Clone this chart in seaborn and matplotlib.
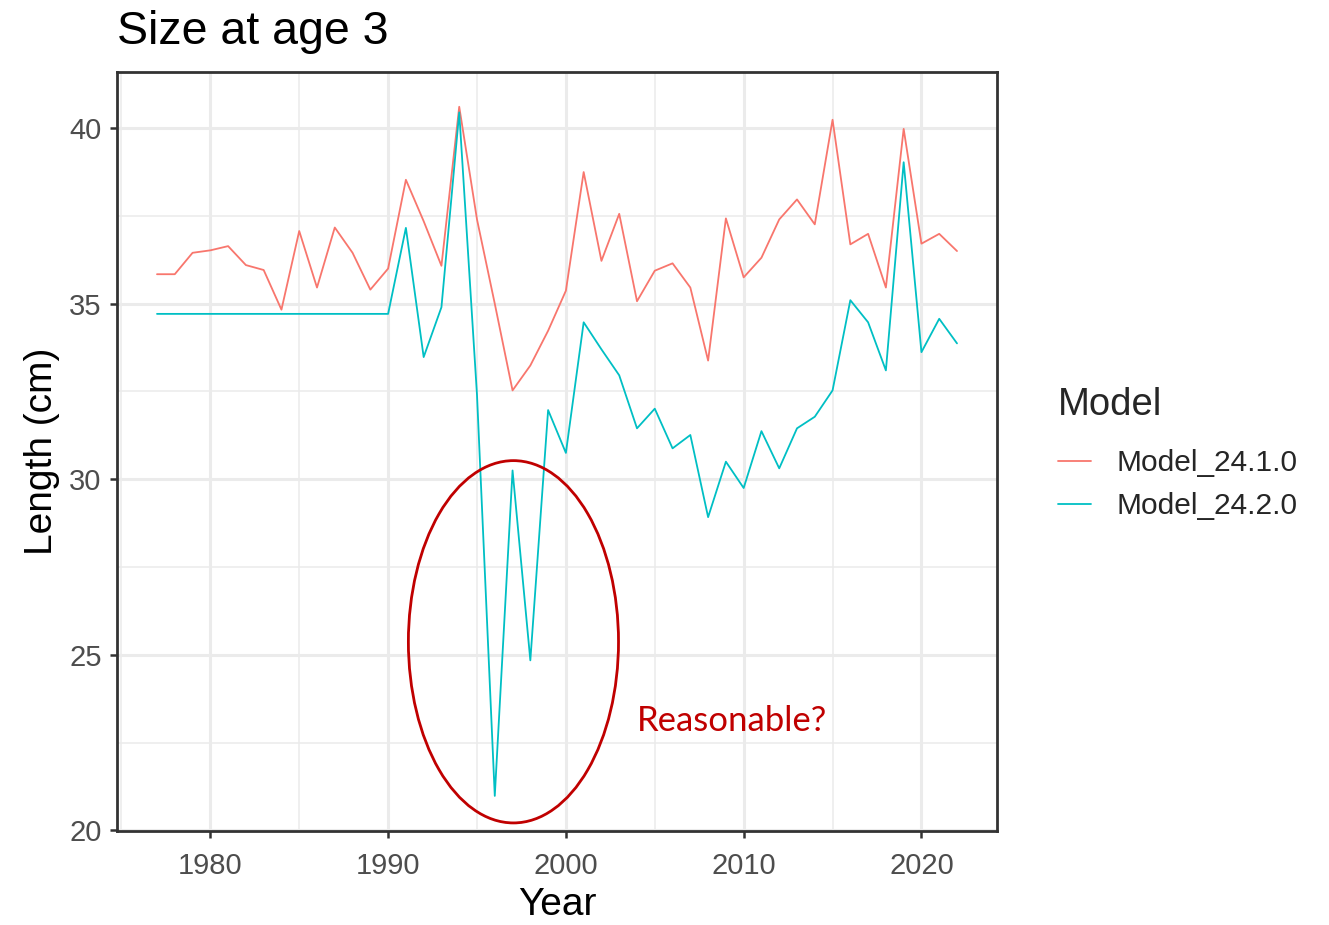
import numpy as np
import pandas as pd
import matplotlib
matplotlib.use("Agg")
import matplotlib.pyplot as plt
from matplotlib.patches import Ellipse
from matplotlib.lines import Line2D
import seaborn as sns

years = list(range(1977, 2023))
model_names = ["Model_24.1.0", "Model_24.2.0"]
model_24_1_0 = [35.84, 35.84, 36.45, 36.52, 36.64, 36.10, 35.96, 34.83, 37.07, 35.46,
                37.17, 36.45, 35.40, 36.00, 38.53, 37.35, 36.08, 40.61, 37.40, 35.00,
                32.53, 33.24, 34.23, 35.37, 38.75, 36.22, 37.56, 35.07, 35.94, 36.15,
                35.46, 33.38, 37.43, 35.75, 36.31, 37.40, 37.97, 37.26, 40.24, 36.69,
                36.99, 35.46, 39.98, 36.71, 36.99, 36.50]
model_24_2_0 = [34.71, 34.71, 34.71, 34.71, 34.71, 34.71, 34.71, 34.71, 34.71, 34.71,
                34.71, 34.71, 34.71, 34.71, 37.16, 33.48, 34.90, 40.45, 32.40, 20.98,
                30.25, 24.84, 31.97, 30.75, 34.47, 33.70, 32.96, 31.45, 32.01, 30.88,
                31.26, 28.92, 30.50, 29.75, 31.37, 30.31, 31.45, 31.78, 32.53, 35.10,
                34.47, 33.10, 39.03, 33.62, 34.57, 33.87]
colors = ["#F8766D", "#00BFC4"]
x_ticks = [1980, 1990, 2000, 2010, 2020]
y_ticks = [20, 25, 30, 35, 40]

df = pd.DataFrame({
    "Year": years * 2,
    "Length": model_24_1_0 + model_24_2_0,
    "Model": [model_names[0]] * len(years) + [model_names[1]] * len(years),
})

sns.set_theme(style="white")
plt.rcParams["font.family"] = ["Liberation Sans", "DejaVu Sans"]

W, H = 1329, 925
fig = plt.figure(figsize=(W / 100, H / 100), dpi=100)
ax = fig.add_axes([117 / W, 1 - 831 / H, (997 - 117) / W, (831 - 72) / H])

sns.lineplot(data=df, x="Year", y="Length", hue="Model", palette=colors,
             ax=ax, linewidth=1.3, legend=False, estimator=None)

ax.set_xlim(1974.75, 2024.25)
ax.set_ylim(19.98, 41.6)
ax.set_xticks(x_ticks)
ax.set_yticks(y_ticks)
ax.set_xticks([1975, 1985, 1995, 2005, 2015], minor=True)
ax.set_yticks([22.5, 27.5, 32.5, 37.5], minor=True)
ax.grid(which="major", color="#EBEBEB", linewidth=2.2)
ax.grid(which="minor", color="#EBEBEB", linewidth=1.1)
ax.set_axisbelow(True)
for s in ax.spines.values():
    s.set_color("#333333")
    s.set_linewidth(2.0)
ax.tick_params(axis="both", which="major", length=5, width=1.8, color="#333333",
               labelsize=21, labelcolor="#4D4D4D", bottom=True, left=True)
ax.tick_params(axis="x", which="major", pad=10)
ax.tick_params(axis="y", which="major", pad=6)
ax.tick_params(axis="both", which="minor", length=0)

ax.set_xlabel("Year", fontsize=28, color="black", labelpad=5)
ax.set_ylabel("Length (cm)", fontsize=28, color="black", labelpad=7)

fig.text(117 / W, 1 - 44 / H, "Size at age 3", fontsize=33.5, color="black",
         ha="left", va="baseline")

# annotation
ell = Ellipse((1997.05, 25.37), width=11.82, height=10.32, fill=False,
              edgecolor="#C00000", linewidth=2.0, zorder=5)
ax.add_patch(ell)
ax.text(2004.0, 23.1, "Reasonable?", fontsize=25, color="#C00000",
        family=["Lato", "DejaVu Sans"], ha="left", va="center")

handles = [Line2D([0], [0], color=c, lw=1.3) for c in colors]
leg = fig.legend(handles, model_names, title="Model", loc="upper left",
                 bbox_to_anchor=(1058 / W, 1 - 387 / H), frameon=False,
                 fontsize=21.5, title_fontsize=27.5, handlelength=1.1,
                 handletextpad=0.85, labelspacing=0.5, borderpad=0.0,
                 borderaxespad=0.0)
leg._legend_box.align = "left"
leg._legend_box.sep = 19

fig.savefig("out.png", dpi=100, facecolor="white")
